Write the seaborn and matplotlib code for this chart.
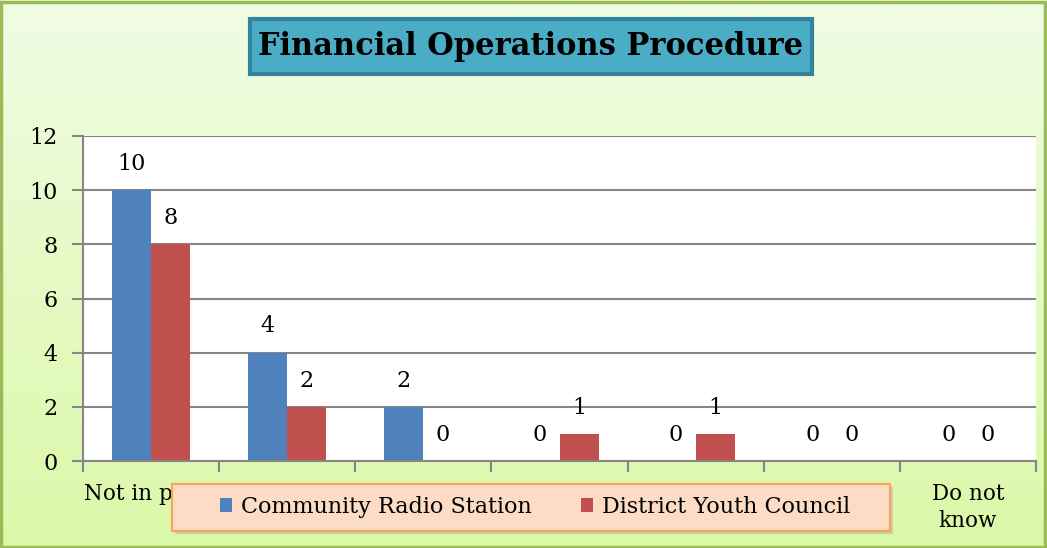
"""Financial Operations Procedure - grouped bar chart."""

import matplotlib.pyplot as plt
import numpy as np
import pandas as pd
import seaborn as sns
from matplotlib.patches import Rectangle

# categories (middle ones are hidden behind the legend in the source)
categories = ["Not in place", "In place", "Partial", "Drafted",
              "Reviewed", "Other", "Do not\nknow"]
community_radio = [10, 4, 2, 0, 0, 0, 0]
youth_council = [8, 2, 0, 1, 1, 0, 0]
series_names = ["Community Radio Station", "District Youth Council"]
y_ticks = [0, 2, 4, 6, 8, 10, 12]

W, H = 1047, 548

df = pd.DataFrame({
    "category": categories * 2,
    "value": community_radio + youth_council,
    "series": [series_names[0]] * len(categories) + [series_names[1]] * len(categories),
})

sns.set_style("white")
plt.rcParams["font.family"] = ["DejaVu Serif"]
plt.rcParams["text.color"] = "black"
plt.rcParams["xtick.labelcolor"] = "black"
plt.rcParams["ytick.labelcolor"] = "black"

fig = plt.figure(figsize=(W / 100, H / 100), dpi=100)

# gradient background
bg = fig.add_axes([0, 0, 1, 1], zorder=0)
top = np.array([241, 252, 228]) / 255
bot = np.array([219, 248, 168]) / 255
t = np.linspace(0, 1, 256)[:, None]
grad = top + (bot - top) * t
bg.imshow(grad[:, None, :], aspect="auto", extent=[0, 1, 0, 1])
bg.add_patch(Rectangle((0.001, 0.002), 0.997, 0.995, fill=False,
                       edgecolor="#9bbb59", linewidth=2.5, transform=bg.transAxes))
bg.set_axis_off()

ax = fig.add_axes([83 / W, (H - 461) / H, 953 / W, 325 / H], zorder=1)
sns.barplot(data=df, x="category", y="value", hue="series", order=categories,
            hue_order=series_names, palette=["#4f81bd", "#c0504d"],
            width=0.575, gap=0, saturation=1, linewidth=0, ax=ax, legend=True)

ax.set_facecolor("white")
ax.set_xlim(-0.5, len(categories) - 0.5)
ax.set_ylim(0, 12)
ax.set_yticks(y_ticks)
ax.yaxis.grid(True, color="#868686", linewidth=1.5)
ax.set_axisbelow(True)
ax.set_xlabel("")
ax.set_ylabel("")
for side in ["top", "right"]:
    ax.spines[side].set_visible(False)
for side in ["left", "bottom"]:
    ax.spines[side].set_color("#868686")
    ax.spines[side].set_linewidth(1.5)

ax.tick_params(axis="y", left=True, length=8, width=1.5, color="#868686",
               labelsize=16, pad=10)
# category boundaries as major ticks, labels on minor ticks
ax.set_xticks(np.arange(-0.5, len(categories), 1.0))
ax.set_xticklabels([])
ax.set_xticks(np.arange(len(categories)), minor=True)
ax.set_xticklabels(categories, minor=True, fontsize=15.5, linespacing=1.3)
ax.tick_params(axis="x", which="major", bottom=True, length=8, width=1.5,
               color="#868686")
ax.tick_params(axis="x", which="minor", bottom=False, pad=14)

for cont in ax.containers:
    ax.bar_label(cont, labels=[str(int(v)) for v in cont.datavalues],
                 fontsize=16, padding=11)

# legend with peach box
handles, labels = ax.get_legend_handles_labels()
ax.get_legend().remove()
lx0, lx1, ly0, ly1 = 172, 890, 484, 531
shadow = Rectangle(((lx0 + 3) / W, 1 - (ly1 + 3) / H), (lx1 - lx0) / W, (ly1 - ly0) / H,
                   transform=fig.transFigure, facecolor="#b9b9a0", edgecolor="none",
                   alpha=0.6, zorder=2)
box = Rectangle((lx0 / W, 1 - ly1 / H), (lx1 - lx0) / W, (ly1 - ly0) / H,
                transform=fig.transFigure, facecolor="#fcdcc4", edgecolor="#f7a35c",
                linewidth=1.5, zorder=3)
fig.patches.extend([shadow, box])
leg = fig.legend(handles, labels, loc="center", ncol=2,
                 bbox_to_anchor=(535 / W, 1 - 507 / H), frameon=False,
                 fontsize=16, handlelength=0.55, handleheight=0.55,
                 handletextpad=0.4, columnspacing=2.2)
leg.set_zorder(4)

# title box
tx0, tx1, ty0, ty1 = 250, 812, 19, 74
fig.patches.append(Rectangle((tx0 / W, 1 - ty1 / H), (tx1 - tx0) / W, (ty1 - ty0) / H,
                             transform=fig.transFigure, facecolor="#4bacc6",
                             edgecolor="#31849b", linewidth=3, zorder=3))
title = fig.text((tx0 + tx1) / 2 / W, 1 - (ty0 + ty1) / 2 / H,
                 "Financial Operations Procedure", ha="center", va="center",
                 fontsize=22, fontweight="bold", color="black")
title.set_zorder(4)

fig.savefig("out.png", dpi=100)
